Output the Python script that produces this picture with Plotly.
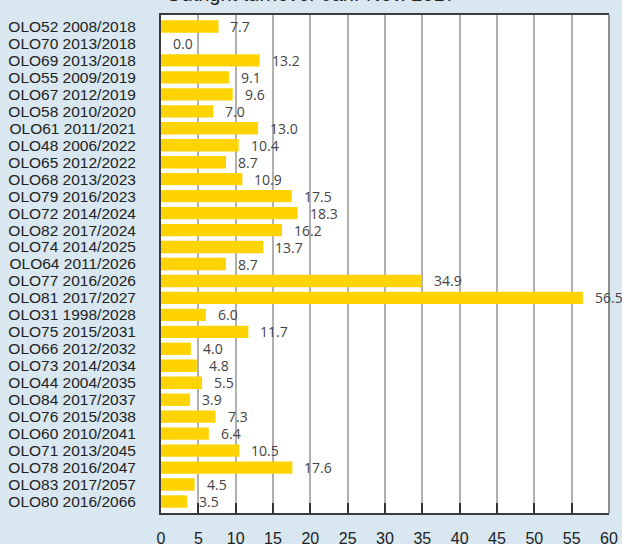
import plotly.graph_objects as go

categories = [
    "OLO52 2008/2018", "OLO70 2013/2018", "OLO69 2013/2018", "OLO55 2009/2019",
    "OLO67 2012/2019", "OLO58 2010/2020", "OLO61 2011/2021", "OLO48 2006/2022",
    "OLO65 2012/2022", "OLO68 2013/2023", "OLO79 2016/2023", "OLO72 2014/2024",
    "OLO82 2017/2024", "OLO74 2014/2025", "OLO64 2011/2026", "OLO77 2016/2026",
    "OLO81 2017/2027", "OLO31 1998/2028", "OLO75 2015/2031", "OLO66 2012/2032",
    "OLO73 2014/2034", "OLO44 2004/2035", "OLO84 2017/2037", "OLO76 2015/2038",
    "OLO60 2010/2041", "OLO71 2013/2045", "OLO78 2016/2047", "OLO83 2017/2057",
    "OLO80 2016/2066",
]
turnover = [
    7.7, 0.0, 13.2, 9.1, 9.6, 7.0, 13.0, 10.4, 8.7, 10.9, 17.5, 18.3, 16.2, 13.7,
    8.7, 34.9, 56.5, 6.0, 11.7, 4.0, 4.8, 5.5, 3.9, 7.3, 6.4, 10.5, 17.6, 4.5, 3.5,
]
x_ticks = [0, 5, 10, 15, 20, 25, 30, 35, 40, 45, 50, 55, 60]
title_text = "Outright turnover Jan.-Nov. 2017"

BG = "#d8e7f0"
BAR = "#ffd300"

fig = go.Figure()
fig.add_trace(go.Bar(
    x=turnover, y=categories, orientation="h",
    marker=dict(color=BAR, line=dict(width=0)),
    hoverinfo="x+y",
))

for c, v in zip(categories, turnover):
    fig.add_annotation(
        x=v, y=c, xref="x", yref="y", text=f"{v:.1f}", showarrow=False,
        xanchor="left", xshift=10, yshift=0,
        font=dict(family="Open Sans", size=14, color="#444444"),
    )

fig.add_annotation(
    x=0.335, y=1.0, xref="paper", yref="paper", yshift=21, text=title_text,
    showarrow=False, xanchor="center", yanchor="middle",
    font=dict(family="Liberation Sans", size=20, color="#222222"),
)

# right border
fig.add_shape(type="line", xref="paper", yref="paper", x0=1, x1=1, y0=0, y1=1,
              line=dict(color="#909090", width=2))

fig.update_layout(
    width=622, height=544,
    margin=dict(l=161, r=13, t=15, b=31, autoexpand=False),
    paper_bgcolor=BG, plot_bgcolor="white",
    showlegend=False, bargap=0.27,
    xaxis=dict(
        range=[0, 60], tickvals=x_ticks, ticktext=[str(t) for t in x_ticks],
        showgrid=True, gridcolor="#b0b0b0", gridwidth=1.5,
        ticks="inside", ticklen=10, tickcolor="#333333", tickwidth=1.5,
        showline=True, linecolor="#3a3a3a", linewidth=2, mirror=True,
        zeroline=False, ticklabelstandoff=10, automargin=False,
        tickfont=dict(family="Liberation Sans", size=16, color="#222222"),
        fixedrange=True,
    ),
    yaxis=dict(
        autorange="reversed", tickmode="array", tickvals=categories,
        ticktext=categories,
        showgrid=False, ticks="", showline=True, linecolor="#3a3a3a", linewidth=2,
        ticklabelstandoff=20, automargin=False,
        tickfont=dict(family="Liberation Sans", size=15.5, color="#222222"),
        fixedrange=True,
    ),
)

fig.write_html(
    "out.html",
    config={"displayModeBar": False},
    post_script="document.body.style.margin='0';document.body.style.padding='0';",
)
